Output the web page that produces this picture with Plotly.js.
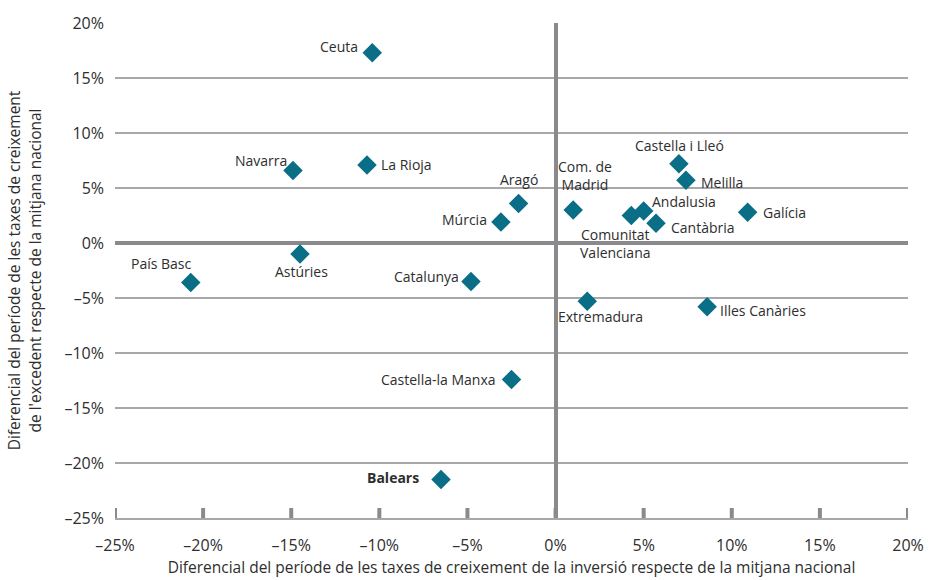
<!DOCTYPE html>
<html>
<head>
<meta charset="utf-8">
<script src="https://cdn.plot.ly/plotly-3.0.1.min.js"></script>
<style>html,body{margin:0;padding:0;background:#fff;}#chart{width:930px;height:580px;}</style>
</head>
<body>
<div id="chart"></div>
<script>
// Data (percent points)
const regions = ["Ceuta","La Rioja","Navarra","Aragó","Múrcia","Com. de<br>Madrid","País Basc","Astúries","Catalunya","Castella i Lleó","Melilla","Andalusia","Comunitat<br>Valenciana","Cantàbria","Galícia","Illes Canàries","Extremadura","Castella-la Manxa","<b>Balears</b>"];
const investDiff = [-10.4,-10.7,-14.9,-2.1,-3.1,1.0,-20.7,-14.5,-4.8,7.0,7.4,5.0,4.3,5.7,10.9,8.6,1.8,-2.5,-6.5];
const surplusDiff = [17.3,7.1,6.6,3.6,1.9,3.0,-3.6,-1.0,-3.5,7.2,5.7,2.9,2.5,1.8,2.8,-5.8,-5.3,-12.4,-21.5];
const tickVals = [-25,-20,-15,-10,-5,0,5,10,15,20];
const tickText = ["–25%","–20%","–15%","–10%","–5%","0%","5%","10%","15%","20%"];

// Label placement (style): [xanchor, xshift, yshift]
const labelPos = [
  ["right",-12,6],["left",12,0],["right",-4,10],["center",0,24],["right",-12,3],
  ["center",12,35],["center",-29,19],["center",1,-17],["right",-10,5],["center",1,18],
  ["left",13,-2],["left",6,10],["center",-16,-28],["left",13,-4],["left",13,0],
  ["left",11,-4],["center",13,-15],["right",-14,0],["right",-20,2]
];

const font = "Open Sans, Noto Sans, sans-serif";
const annotations = regions.map((r,i)=>({
  x: investDiff[i], y: surplusDiff[i], xref:"x", yref:"y",
  text: r, showarrow:false,
  xanchor: labelPos[i][0], yanchor:"middle",
  xshift: labelPos[i][1], yshift: labelPos[i][2],
  font:{family:font,size:14,color:"#2e2e2e"}
}));

// x-axis tick marks (inside, upward), placed at the tick values
const tickShapes = tickVals.map(v=>({
  type:"line", xref:"x", yref:"paper", ysizemode:"pixel", yanchor:0,
  x0:v, x1:v, y0:0, y1:10, layer:"below",
  line:{color:"#8a8a8d", width:4}
}));

const trace = {
  x: investDiff, y: surplusDiff, type:"scatter", mode:"markers",
  marker:{symbol:"diamond", size:15, color:"#0a6e87"},
  hoverinfo:"skip", cliponaxis:false
};

const layout = {
  width:930, height:580,
  margin:{l:115, r:22, t:23, b:62},
  paper_bgcolor:"#fff", plot_bgcolor:"#fff",
  showlegend:false,
  font:{family:font, color:"#2e2e2e", size:14},
  xaxis:{
    range:[-25,20], tickvals:tickVals, ticktext:tickText,
    showgrid:false, zeroline:true, zerolinecolor:"#8a8a8d", zerolinewidth:4,
    ticks:"", ticklabelstandoff:12,
    showline:true, linecolor:"#a8a8ab", linewidth:2,
    tickfont:{size:16, color:"#2e2e2e"},
    title:{text:"Diferencial del període de les taxes de creixement de la inversió respecte de la mitjana nacional", font:{size:15.5,color:"#2e2e2e"}, standoff:4}
  },
  yaxis:{
    range:[-25,20], tickvals:tickVals, ticktext:tickText,
    showgrid:true, gridcolor:"#a8a8ab", gridwidth:1.5,
    zeroline:true, zerolinecolor:"#8a8a8d", zerolinewidth:4,
    ticks:"", ticklabelstandoff:10,
    tickfont:{size:16, color:"#2e2e2e"},
    title:{text:"Diferencial del període de les taxes de creixement<br>de l'excedent respecte de la mitjana nacional", font:{size:15.5,color:"#2e2e2e"}, standoff:19}
  },
  shapes: tickShapes,
  annotations: annotations
};

Plotly.newPlot("chart",[trace],layout,{staticPlot:true, displayModeBar:false});
</script>
</body>
</html>
